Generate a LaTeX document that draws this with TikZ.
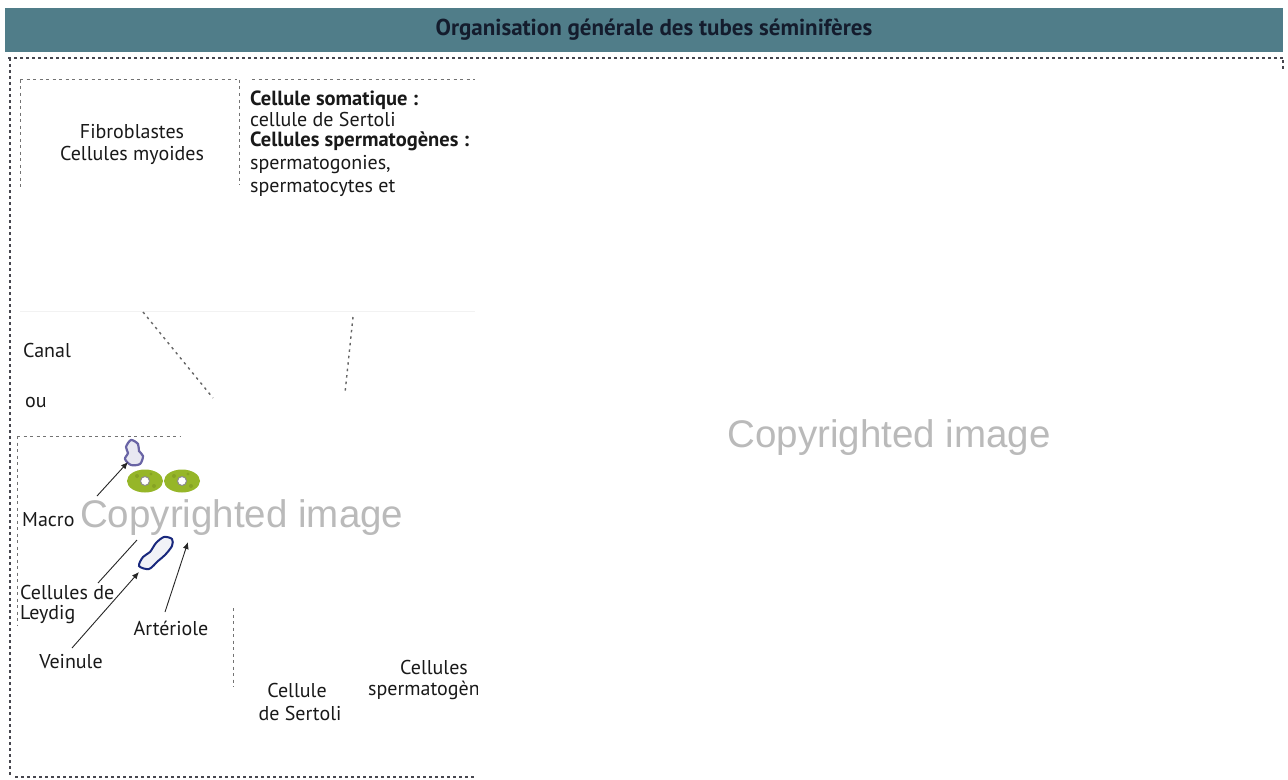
\documentclass[tikz,border=0pt]{standalone}
\usepackage{fontspec}
\setmainfont{PT Sans}
\newfontfamily\wmfont{Liberation Sans}
\usetikzlibrary{arrows.meta, positioning}

\definecolor{titlebar}{RGB}{80,125,137}
\definecolor{titleink}{RGB}{20,28,45}
\definecolor{frameink}{RGB}{70,70,78}
\definecolor{macroph}{RGB}{105,100,165}
\definecolor{leydig}{RGB}{150,182,40}
\definecolor{vessel}{RGB}{25,40,125}

\tikzset{
  frame/.style={dash pattern=on 3bp off 3bp, line width=1.2bp, frameink},
  innerframe/.style={dash pattern=on 3bp off 3.5bp, line width=1bp, black!55},
  leader/.style={dash pattern=on 2.5bp off 4bp, line width=1.4bp, black!60},
  lbl/.style={font=\fontsize{20bp}{22bp}\selectfont, inner sep=0pt, text=black!90},
  lblbold/.style={lbl, font=\fontsize{20.5bp}{22bp}\selectfont\bfseries},
  pointer/.style={-{Latex[length=7bp,width=6bp]}, line width=0.9bp, black!85},
  watermark/.style={font=\wmfont\fontsize{38.5bp}{40bp}\selectfont, text=black!27, inner sep=0pt},
}

\begin{document}
\begin{tikzpicture}[x=1bp, y=-1bp]
  \useasboundingbox[fill=white] (0,0) rectangle (1288,780);

  % title band
  \fill[titlebar] (5,8) rectangle (1283,52);
  \node[font=\fontsize{23bp}{24bp}\selectfont\bfseries, text=titleink] (title) at (654,30)
    {Organisation générale des tubes séminifères};

  % outer frame
  \draw[frame] (8,58) -- (1283,58);
  \draw[frame] (10,58) -- (10,778);
  \draw[frame] (1283,60) -- (1283,72);
  \draw[frame] (15,777) -- (475,777);

  % upper panel
  \draw[innerframe] (20,80) -- (237,80);
  \draw[innerframe] (252,80) -- (475,80);
  \draw[innerframe] (20,80) -- (20,190);
  \draw[innerframe] (239,80) -- (239,185);
  \draw[black!5, line width=1bp] (20,311) -- (475,311);

  \node[lbl] (fibro) at (132,132) {Fibroblastes};
  \node[lbl] (myo) at (132,155) {Cellules myoides};

  \node[lblbold, anchor=west] (soma) at (250,100) {Cellule somatique :};
  \node[lbl, anchor=west] (sertoli) at (250,120) {cellule de Sertoli};
  \node[lblbold, anchor=west] (germ) at (250,141) {Cellules spermatogènes :};
  \node[lbl, anchor=west] (gonies) at (250,165) {spermatogonies,};
  \node[lbl, anchor=west] (cytes) at (250,188) {spermatocytes et};

  % leaders towards the tube
  \coordinate (lead1a) at (143,312);
  \coordinate (lead1b) at (213,398);
  \coordinate (lead2a) at (353,317);
  \coordinate (lead2b) at (345,393);
  \draw[leader] (lead1a) -- (lead1b);
  \draw[leader] (lead2a) -- (lead2b);

  \node[lbl, anchor=west] (canal) at (23,350) {Canal};
  \node[lbl, anchor=west] (ou) at (25,402) {ou};

  % interstitial tissue
  \draw[innerframe] (17,436) -- (180,436);
  \draw[innerframe] (17,436) -- (17,625);
  \draw[innerframe] (233,608) -- (233,687);

  % macrophage
  \draw[macroph, line width=2.2bp, fill=macroph!15] plot[smooth cycle] coordinates
    {(126,447) (131,440) (138,444) (139,451) (143,456) (140,464) (131,465) (125,459) (128,453)};
  % Leydig cells
  \foreach \cx in {145,182} {
    \fill[leydig] (\cx,481) ellipse (18 and 11.5);
    \fill[leydig!70!black, opacity=0.35] (\cx-8,476) circle (2bp) (\cx+9,486) circle (2bp) (\cx+6,474) circle (1.6bp);
    \draw[black!45, fill=white, line width=1bp] (\cx,481) circle (4.5bp);
  }
  % veinule
  \draw[vessel, line width=2bp, fill=vessel!6] plot[smooth cycle] coordinates
    {(139,566) (143,557) (150,552) (156,543) (164,537) (172,539) (172,546) (165,555) (158,561) (149,569)};

  \node[watermark, anchor=west] (wm1) at (80,518) {Copyrighted image};
  \node[watermark] (wm2) at (889,438) {Copyrighted image};

  \node[lbl, anchor=west] (macro) at (22,520) {Macro};
  \node[lbl, anchor=west] (leyd1) at (20,592) {Cellules de};
  \node[lbl, anchor=west] (leyd2) at (20,615) {Leydig};
  \node[lbl] (veine) at (71,662) {Veinule};
  \node[lbl] (arter) at (171,628) {Artériole};

  \coordinate (macroA) at (97,496);
  \coordinate (macroB) at (128,462);
  \coordinate (leydA) at (98,583);
  \coordinate (leydB) at (137,540);
  \coordinate (veineA) at (72,648);
  \coordinate (veineB) at (139,572);
  \coordinate (arterA) at (165,612);
  \coordinate (arterB) at (188,542);
  \draw[pointer] (macroA) -- (macroB);
  \draw[line width=0.9bp, black!85] (leydA) -- (leydB);
  \draw[pointer] (veineA) -- (veineB);
  \draw[pointer] (arterA) -- (arterB);

  % seminiferous epithelium
  \node[lbl] (cell1) at (297,690) {Cellule};
  \node[lbl] (cell2) at (300,713) {de Sertoli};
  \node[lbl] (sperm1) at (434,667) {Cellules};
  \begin{scope}
    \clip (360,675) rectangle (477,705);
    \node[lbl, anchor=west] (sperm2) at (368,690) {spermatogènes};
  \end{scope}
\end{tikzpicture}
\end{document}
